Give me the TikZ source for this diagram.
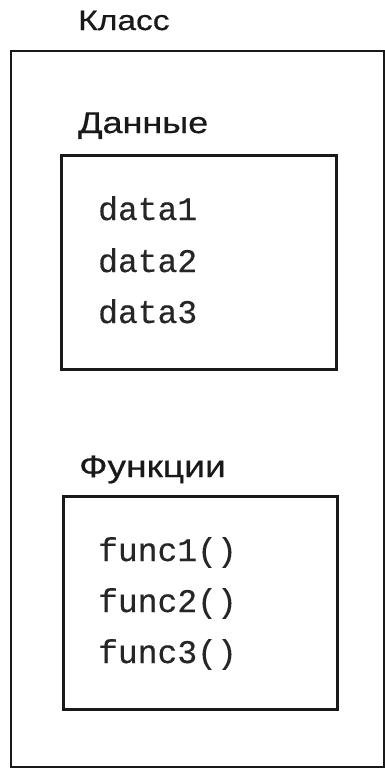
\documentclass[tikz,border=0pt]{standalone}
\usepackage{fontspec}
\newfontfamily\labelfont[FakeStretch=1.2,FakeBold=0.6]{Liberation Sans}
\newfontfamily\codefont[FakeBold=0.4]{Liberation Mono}
\begin{document}
\begin{tikzpicture}[x=1pt,y=-1pt,
  frame/.style={draw=black!90, line width=2pt, inner sep=0pt, anchor=north west},
  innerframe/.style={frame, line width=2.6pt},
  title/.style={anchor=base west, inner sep=0pt, text=black!90},
  code/.style={anchor=base west, inner sep=0pt, font=\codefont\fontsize{33}{40}\selectfont, text=black!85}]
  \useasboundingbox (0,0) rectangle (385,769);

  % class outline
  \node[frame, minimum width=373pt, minimum height=716pt] (class) at (10,50) {};
  \node[title, font=\labelfont\fontsize{28}{32}\selectfont] (classlabel) at (78,30) {Класс};

  % data section
  \node[title, font=\labelfont\fontsize{30}{34}\selectfont] (datalabel) at (78,133) {Данные};
  \node[innerframe, minimum width=275pt, minimum height=214pt] (databox) at (60,154) {};
  \node[code] (d1) at (98,220) {data1};
  \node[code] (d2) at (98,272) {data2};
  \node[code] (d3) at (98,323) {data3};

  % function section
  \node[title, font=\labelfont\fontsize{31}{34}\selectfont] (funclabel) at (79,477) {Функции};
  \node[innerframe, minimum width=274pt, minimum height=213pt] (funcbox) at (62,495) {};
  \node[code] (f1) at (98,561) {func1()};
  \node[code] (f2) at (98,612) {func2()};
  \node[code] (f3) at (98,663) {func3()};
\end{tikzpicture}
\end{document}
